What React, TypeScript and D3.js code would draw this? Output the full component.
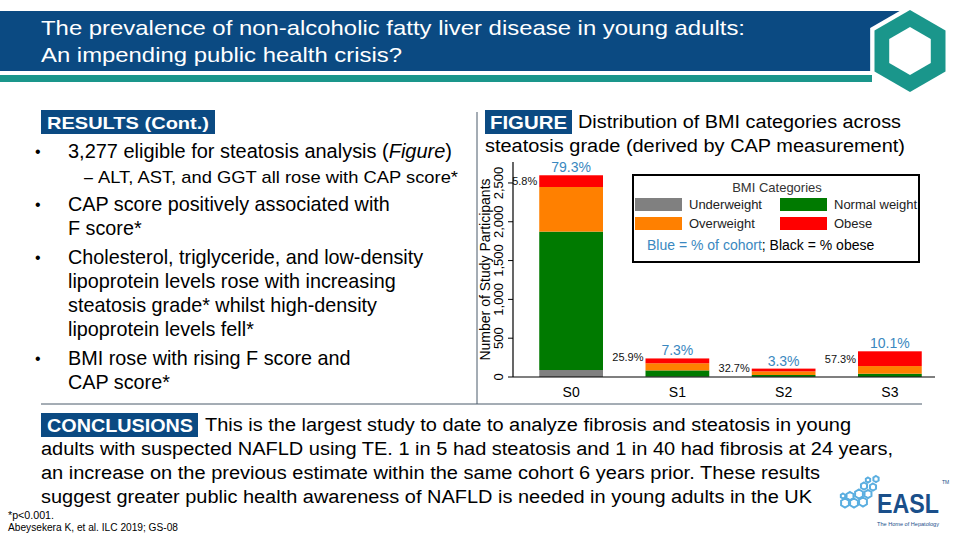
import * as d3 from "d3";

// chart data
const grades = ["S0", "S1", "S2", "S3"];
const bmiKeys = ["underweight", "normal", "overweight", "obese"];
const bmiLabels = ["Underweight", "Normal weight", "Overweight", "Obese"];
const bmiColors = ["#808080", "#007a00", "#ff8000", "#ff0000"];
const underweight = [90, 5, 3, 2];
const normalWeight = [1783, 80, 23, 40];
const overweight = [575, 92, 47, 99];
const obese = [151, 62, 35, 190];
const cohortPct = ["79.3%", "7.3%", "3.3%", "10.1%"];
const obesePct = ["5.8%", "25.9%", "32.7%", "57.3%"];
const yTicks = [0, 500, 1000, 1500, 2000, 2500];

const FONT = "'Liberation Sans', Arial, sans-serif";
const NAVY = "#0b4a82";
const TEAL = "#1a968b";
const BLUE_TXT = "#3a88c0";

const hexPoints = (cx: number, cy: number, r: number) =>
  d3.range(6).map(k => {
    const a = (Math.PI / 180) * (-90 + 60 * k);
    return `${cx + r * Math.cos(a)},${cy + r * Math.sin(a)}`;
  }).join(" ");

const BarChart = () => {
  const rows = grades.map((g, i) => ({
    grade: g,
    underweight: underweight[i],
    normal: normalWeight[i],
    overweight: overweight[i],
    obese: obese[i],
  }));
  const stacked = d3.stack<any>().keys(bmiKeys)(rows);

  const x = d3.scaleBand().domain(grades).range([518, 943]).paddingInner(0.4).paddingOuter(0.2);
  const y = d3.scaleLinear().domain([0, 2770]).range([377, 162]);
  const fmt = d3.format(",");
  const axisX = 513;

  return (
    <g fontFamily={FONT}>
      {/* bars */}
      {stacked.map((layer, li) => (
        <g key={layer.key} fill={bmiColors[li]}>
          {layer.map((d, i) => (
            <rect key={i} x={x(grades[i])} width={x.bandwidth()}
              y={y(d[1])} height={y(d[0]) - y(d[1])} />
          ))}
        </g>
      ))}

      {/* labels */}
      {grades.map((g, i) => {
        const top = stacked[3][i][1];
        const redBottom = stacked[3][i][0];
        const yt = y(top);
        const redH = y(redBottom) - yt;
        const by = redH < 8 ? yt - 1 : (yt + y(redBottom)) / 2;
        const bx = x(g)! + x.bandwidth() / 2;
        return (
          <g key={g}>
            <text x={bx} y={yt - 3} textAnchor="middle" fontSize={14} fill={BLUE_TXT}>{cohortPct[i]}</text>
            <text x={x(g)! - 2} y={by + 4} textAnchor="end" fontSize={11} fill="#111">{obesePct[i]}</text>
            <text x={bx} y={397} textAnchor="middle" fontSize={14} fill="#000">{g}</text>
          </g>
        );
      })}

      {/* axes */}
      <line x1={axisX} x2={axisX} y1={y.range()[1]} y2={377} stroke="#000" strokeWidth={1.2} />
      <line x1={axisX} x2={935} y1={377} y2={377} stroke="#000" strokeWidth={1.2} />
      {yTicks.map(t => (
        <g key={t} transform={`translate(${axisX},${y(t)})`}>
          <line x1={-5} x2={0} stroke="#000" />
          <text transform="rotate(-90)" x={0} y={-10} textAnchor="middle" fontSize={13} fill="#000">{fmt(t)}</text>
        </g>
      ))}
      <text transform={`translate(490,${(y(0) + y(2770)) / 2}) rotate(-90)`} textAnchor="middle" fontSize={14} fill="#000">
        Number of Study Participants
      </text>

      {/* legend */}
      <rect x={633} y={175} width={286} height={87} fill="#fff" stroke="#000" strokeWidth={2} />
      <text x={777} y={192} textAnchor="middle" fontSize={13} fill="#333">BMI Categories</text>
      {bmiLabels.map((lab, i) => {
        // legend order: row0 Underweight | Normal weight ; row1 Overweight | Obese
        const col = i % 2;
        const row = i < 2 ? 0 : 1;
        const lx = col === 0 ? 635 : 780;
        const ly = row === 0 ? 198 : 217;
        return (
          <g key={lab}>
            <rect x={lx} y={ly} width={47} height={13} fill={bmiColors[i]} />
            <text x={lx + 54} y={ly + 11} fontSize={13} fill="#222">{lab}</text>
          </g>
        );
      })}
      <text x={647} y={250} fontSize={14}>
        <tspan fill={BLUE_TXT}>Blue = % of cohort</tspan>
        <tspan fill="#000">; Black = % obese</tspan>
      </text>
    </g>
  );
};

const leftLines: { t: string; y: number; bullet?: boolean }[] = [
  { t: "CAP score positively associated with", y: 211, bullet: true },
  { t: "F score*", y: 235 },
  { t: "Cholesterol, triglyceride, and low-density", y: 264, bullet: true },
  { t: "lipoprotein levels rose with increasing", y: 288 },
  { t: "steatosis grade* whilst high-density", y: 312 },
  { t: "lipoprotein levels fell*", y: 336 },
  { t: "BMI rose with rising F score and", y: 365, bullet: true },
  { t: "CAP score*", y: 389 },
];

const conclusionLines = [
  { t: "adults with suspected NAFLD using TE. 1 in 5 had steatosis and 1 in 40 had fibrosis at 24 years,", y: 455, w: 852 },
  { t: "an increase on the previous estimate within the same cohort 6 years prior. These results", y: 479, w: 779 },
  { t: "suggest greater public health awareness of NAFLD is needed in young adults in the UK", y: 503, w: 771 },
];

const easlHexes = [
  [845, 503, 4.5], [854, 503, 4.5], [863, 502, 4.5], [850, 496, 4], [859, 494, 4.5],
  [868, 494, 4], [864, 486, 3.5], [873, 487, 3.5], [876, 479, 3], [868, 480, 2.5], [843, 496, 2.5],
];

export default function App() {
  return (
    <svg width={960} height={540} viewBox="0 0 960 540"
      style={{ position: "absolute", left: 0, top: 0, background: "#fff" }}>
      <rect width={960} height={540} fill="#fff" />

      {/* header */}
      <rect x={0} y={11} width={905} height={60} fill={NAVY} />
      <rect x={0} y={75} width={872} height={7} fill={TEAL} />
      <polygon points={hexPoints(910, 51, 46)} fill="#fff" />
      <polygon points={hexPoints(910, 51, 41)} fill={TEAL} />
      <polygon points={hexPoints(910, 51, 24)} fill="#fff" />
      <g fontFamily={FONT} fill="#fff" fontSize={21}>
        <text x={41} y={35} textLength={704} lengthAdjust="spacingAndGlyphs">
          The prevalence of non-alcoholic fatty liver disease in young adults:
        </text>
        <text x={41} y={62} textLength={361} lengthAdjust="spacingAndGlyphs">
          An impending public health crisis?
        </text>
      </g>

      {/* left panel */}
      <g fontFamily={FONT}>
        <rect x={41} y={110} width={174} height={24} fill={NAVY} />
        <text x={47} y={129} fontSize={17} fontWeight="bold" fill="#fff"
          textLength={162} lengthAdjust="spacingAndGlyphs">RESULTS (Cont.)</text>
        <text x={35} y={157} fontSize={16}>•</text>
        <text x={68} y={158} fontSize={19.5} textLength={384} lengthAdjust="spacingAndGlyphs">
          3,277 eligible for steatosis analysis (<tspan fontStyle="italic">Figure</tspan>)
        </text>
        <text x={84} y={183} fontSize={16}>–</text>
        <text x={98} y={183} fontSize={17} textLength={360} lengthAdjust="spacingAndGlyphs">
          ALT, AST, and GGT all rose with CAP score*
        </text>
        {leftLines.map(l => (
          <g key={l.t}>
            {l.bullet && <text x={35} y={l.y - 1} fontSize={16}>•</text>}
            <text x={68} y={l.y} fontSize={19.8}>{l.t}</text>
          </g>
        ))}
      </g>

      {/* dividers */}
      <line x1={477} x2={477} y1={112} y2={404} stroke="#4a5a6a" strokeWidth={1} />
      <line x1={41} x2={922} y1={404} y2={404} stroke="#4a5a6a" strokeWidth={1} />

      {/* figure title */}
      <g fontFamily={FONT}>
        <rect x={485} y={110} width={87} height={24} fill={NAVY} />
        <text x={490} y={129} fontSize={18} fontWeight="bold" fill="#fff"
          textLength={77} lengthAdjust="spacingAndGlyphs">FIGURE</text>
        <text x={578} y={128} fontSize={18} textLength={323} lengthAdjust="spacingAndGlyphs">
          Distribution of BMI categories across
        </text>
        <text x={485} y={152} fontSize={18} textLength={420} lengthAdjust="spacingAndGlyphs">
          steatosis grade (derived by CAP measurement)
        </text>
      </g>

      <BarChart />

      {/* conclusions */}
      <g fontFamily={FONT} fontSize={18}>
        <rect x={41} y={413} width={157} height={24} fill={NAVY} />
        <text x={47} y={432} fontSize={18} fontWeight="bold" fill="#fff"
          textLength={146} lengthAdjust="spacingAndGlyphs">CONCLUSIONS</text>
        <text x={205} y={431} textLength={646} lengthAdjust="spacingAndGlyphs">
          This is the largest study to date to analyze fibrosis and steatosis in young
        </text>
        {conclusionLines.map(l => (
          <text key={l.y} x={41} y={l.y} textLength={l.w} lengthAdjust="spacingAndGlyphs">{l.t}</text>
        ))}
      </g>

      {/* footnotes */}
      <g fontFamily={FONT} fontSize={10} fill="#000">
        <text x={8} y={519} textLength={46} lengthAdjust="spacingAndGlyphs">*p&lt;0.001.</text>
        <text x={8} y={531} textLength={170} lengthAdjust="spacingAndGlyphs">Abeysekera K, et al. ILC 2019; GS-08</text>
      </g>

      {/* EASL logo */}
      <g>
        {easlHexes.map(([cx, cy, r], i) => (
          <polygon key={i} points={hexPoints(cx, cy, r)} fill="none" stroke="#5aaee0" strokeWidth={2} />
        ))}
        <text x={877} y={513} fontFamily={FONT} fontSize={28} fontWeight="bold" fill="#1a4f8a"
          textLength={62} lengthAdjust="spacingAndGlyphs">EASL</text>
        <text x={942} y={484} fontFamily={FONT} fontSize={5} fill="#1a4f8a">TM</text>
        <text x={877} y={526} fontFamily={FONT} fontSize={5.5} fill="#1a4f8a"
          textLength={62} lengthAdjust="spacingAndGlyphs">The Home of Hepatology</text>
      </g>
    </svg>
  );
}
